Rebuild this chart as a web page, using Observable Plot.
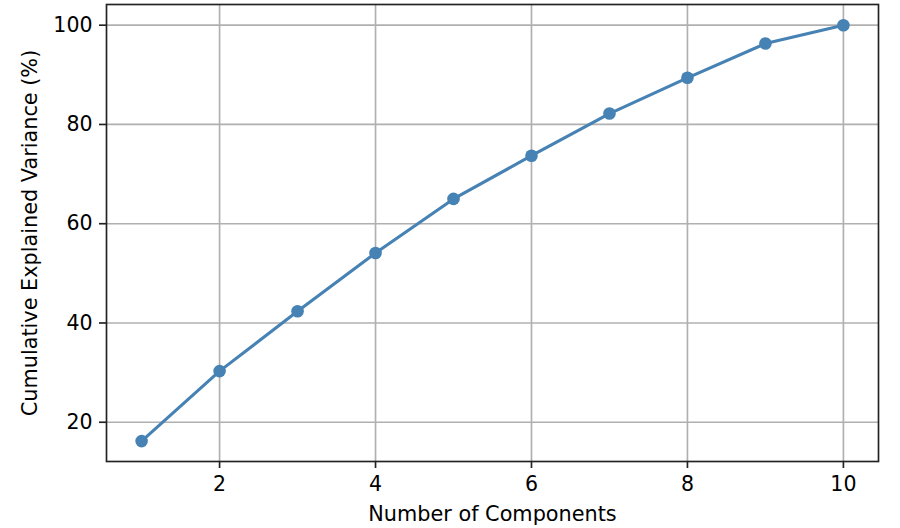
<!DOCTYPE html>
<html>
<head>
<meta charset="utf-8">
<script src="https://cdn.jsdelivr.net/npm/d3@7"></script>
<script src="https://cdn.jsdelivr.net/npm/@observablehq/plot@0.6"></script>
<style>
  html, body { margin: 0; padding: 0; background: #fff; }
  #chart svg { display: block; }
</style>
</head>
<body>
<div id="chart"></div>
<script>
const components = [1, 2, 3, 4, 5, 6, 7, 8, 9, 10];
const cumulativeVariance = [16.2, 30.3, 42.35, 54.1, 65.0, 73.7, 82.2, 89.4, 96.3, 100.0];
const xTicks = [2, 4, 6, 8, 10];
const yTicks = [20, 40, 60, 80, 100];
const xLabel = "Number of Components";
const yLabel = "Cumulative Explained Variance (%)";

const data = components.map((c, i) => ({c, v: cumulativeVariance[i]}));
const color = "#4682b4";
const font = "DejaVu Sans";

const chart = Plot.plot({
  width: 900,
  height: 528,
  marginLeft: 106,
  marginRight: 22,
  marginTop: 4,
  marginBottom: 67,
  style: {fontFamily: font, fontSize: "20px", color: "#000", background: "#fff"},
  x: {domain: [0.55, 10.45]},
  y: {domain: [12.09, 104.17]},
  marks: [
    Plot.gridX(xTicks, {stroke: "#b0b0b0", strokeOpacity: 1, strokeWidth: 1.67}),
    Plot.gridY(yTicks, {stroke: "#b0b0b0", strokeOpacity: 1, strokeWidth: 1.67}),
    Plot.axisX(xTicks, {tickSize: 7, tickPadding: 8, strokeWidth: 1.67, stroke: "#222", label: null, fontSize: 20.5}),
    Plot.axisY(yTicks, {tickSize: 7, tickPadding: 7, strokeWidth: 1.67, stroke: "#222", label: null, fontSize: 20.5}),
    Plot.text([xLabel], {frameAnchor: "bottom", dy: 59, text: d => d, fontSize: 20.8, fill: "#000", lineAnchor: "bottom", textAnchor: "middle"}),
    Plot.text([yLabel], {frameAnchor: "left", dx: -76, rotate: -90, text: d => d, fontSize: 20.8, fill: "#000", lineAnchor: "middle", textAnchor: "middle"}),
    Plot.line(data, {x: "c", y: "v", stroke: color, strokeWidth: 3.1}),
    Plot.dot(data, {x: "c", y: "v", r: 6.3, fill: color, stroke: "none"}),
    Plot.frame({stroke: "#222", strokeWidth: 1.67})
  ]
});
document.getElementById("chart").appendChild(chart);
</script>
</body>
</html>
